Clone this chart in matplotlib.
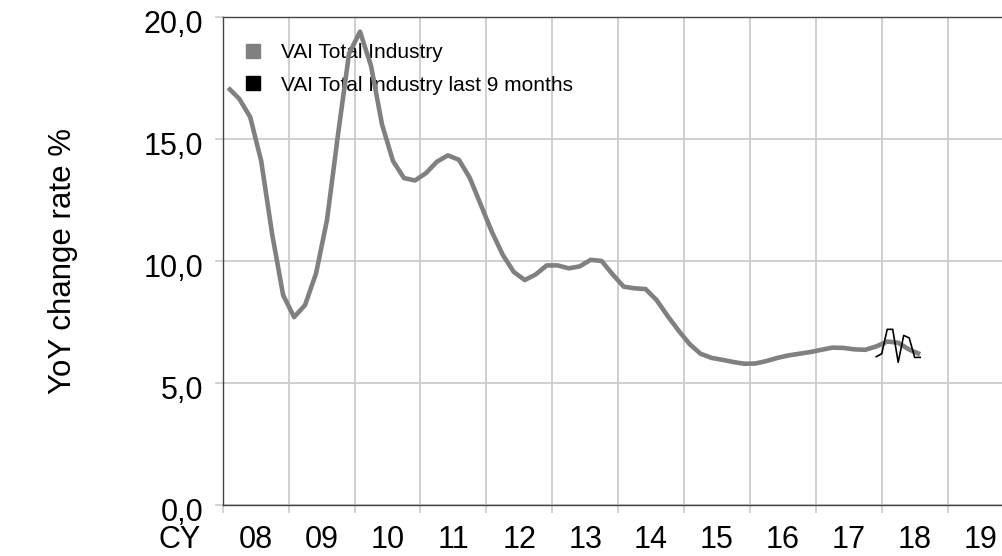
#!/usr/bin/python
"""
VAI total industry - YoY change rate, monthly line with last 9 months overlay.
"""

import matplotlib
matplotlib.use("Agg")
import matplotlib.pyplot as plt
from matplotlib.lines import Line2D
from matplotlib.transforms import ScaledTranslation
import numpy as np
import pandas as pd


# ============================================================================ #
# DATA
# ============================================================================ #
year_labels = ["08", "09", "10", "11", "12", "13", "14", "15", "16", "17",
               "18", "19"]
y_ticks = [0, 5, 10, 15, 20]

# every second month, Feb 2008 .. Aug 2018
total_dates = pd.date_range("2008-02-01", "2018-08-01", freq="2MS")
total_values = [
    17.1, 16.65, 15.9, 14.1, 11.1, 8.6,      # 2008
    7.7, 8.2, 9.5, 11.7, 15.2, 18.5,         # 2009
    19.4, 18.0, 15.6, 14.1, 13.4, 13.3,      # 2010
    13.6, 14.07, 14.33, 14.15, 13.4, 12.3,   # 2011
    11.2, 10.25, 9.55, 9.22, 9.45, 9.82,     # 2012
    9.82, 9.7, 9.78, 10.05, 10.0, 9.45,      # 2013
    8.95, 8.88, 8.85, 8.4, 7.75, 7.15,       # 2014
    6.6, 6.2, 6.03, 5.95, 5.86, 5.79,        # 2015
    5.8, 5.9, 6.03, 6.13, 6.2, 6.27,         # 2016
    6.36, 6.45, 6.44, 6.38, 6.36, 6.5,       # 2017
    6.7, 6.65, 6.37, 6.18,                   # 2018
]

# last 9 months, Dec 2017 .. Aug 2018
last_dates = pd.date_range("2017-12-01", "2018-08-01", freq="MS")
last_values = [6.08, 6.2, 7.2, 7.2, 5.85, 6.95, 6.85, 6.05, 6.05]

series_labels = ["VAI Total Industry", "VAI Total Industry last 9 months"]


# ============================================================================ #
# FUNCTIONS
# ============================================================================ #
def to_year_axis(dates):
    # category axis: band 0 = 2008, one unit per year
    return (dates.year - 2008) + (dates.month - 1) / 12.0


def generate_plot():
    plt.rcParams["font.family"] = ["Liberation Sans", "DejaVu Sans"]
    fig = plt.figure(figsize=(10.02, 5.56), dpi=100)
    ax = fig.add_axes([0.2223, 0.0917, 0.7892, 0.8777])

    grid_c = "#cccccc"
    tick_len, x_pad = 5.5, 14.5
    ax.plot(to_year_axis(total_dates), total_values, color="#808080",
            lw=3.3, solid_joinstyle="round", solid_capstyle="butt", zorder=3)
    ax.plot(to_year_axis(last_dates), last_values, color="black",
            lw=1.2, zorder=4)

    ax.set_xlim(0, 12)
    ax.set_ylim(0, 20)

    ax.set_xticks(np.arange(0, 13))
    ax.set_xticklabels([])
    ax.set_xticks(np.arange(len(year_labels)) + 0.5, minor=True)
    ax.set_xticklabels(year_labels, minor=True)
    ax.tick_params(axis="x", which="major", length=tick_len, width=1.2,
                   color=grid_c)
    # minor ticks have no length, so the pad counts from the axis line
    ax.tick_params(axis="x", which="minor", length=0, pad=x_pad,
                   labelsize=22)

    ax.set_yticks(y_ticks)
    ax.set_yticklabels(["{:.1f}".format(v).replace(".", ",") for v in y_ticks])
    ax.tick_params(axis="y", length=tick_len, width=1.2, color=grid_c,
                   pad=8.5, labelsize=22)
    shift = ScaledTranslation(0, -3 / 72.0, fig.dpi_scale_trans)
    for lab in ax.get_yticklabels():
        lab.set_transform(lab.get_transform() + shift)

    ax.grid(True, which="major", color=grid_c, lw=1.3, zorder=0)
    ax.set_axisbelow(True)
    for side in ["left", "bottom", "top"]:
        ax.spines[side].set_color("#444444")
        ax.spines[side].set_linewidth(1.0)
    ax.spines["right"].set_visible(False)

    ax.set_ylabel("YoY change rate %", fontsize=22.5, va="center")
    ax.yaxis.set_label_coords(-0.2026, 0.5)
    # category axis title, on the tick label row
    cy_offset = ScaledTranslation(0, -x_pad / 72.0, fig.dpi_scale_trans)
    ax.text(-0.054, 0, "CY", transform=ax.transAxes + cy_offset,
            fontsize=22, ha="center", va="top")

    handles = [Line2D([], [], ls="none", marker="s", ms=9.5, color="#808080"),
               Line2D([], [], ls="none", marker="s", ms=9.5, color="black")]
    leg = ax.legend(handles, series_labels, loc="upper left",
                    bbox_to_anchor=(0.025, 0.946), frameon=False,
                    fontsize=15, handlelength=1.0, handletextpad=0.85,
                    labelspacing=0.64, borderpad=0, borderaxespad=0)
    leg.set_zorder(1.5)
    return fig


# ============================================================================ #
# MAIN BLOCK
# ============================================================================ #
if __name__ == "__main__":
    fig = generate_plot()
    fig.savefig("out.png", dpi=100)
